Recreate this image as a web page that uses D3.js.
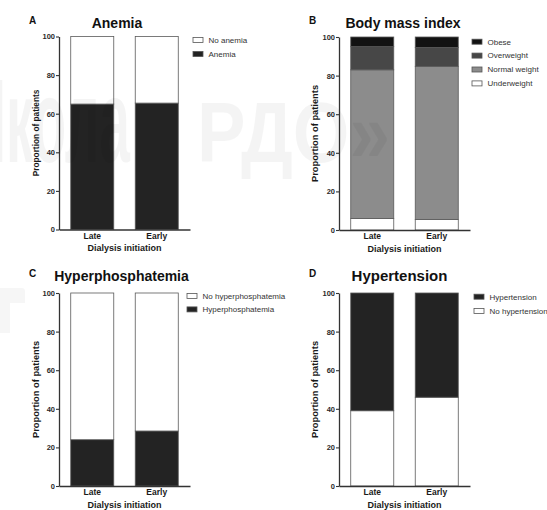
<!DOCTYPE html>
<html lang="en">

<head>
  <meta charset="utf-8">
  <title>Dialysis initiation</title>
  <script type="text/javascript" src="https://cdn.jsdelivr.net/npm/d3@7"></script>
  <style type="text/css">
    body { margin: 0; background: #fff; }
    svg { display: block; font-family: "Liberation Sans", Arial, sans-serif; }
  </style>
</head>

<body>
  <script type="text/javascript">

    // Size of the page
    const w = 547;
    const h = 510;

    // Data: two groups, percent of patients
    const categories = ["Late", "Early"];
    const yTicks = [0, 20, 40, 60, 80, 100];

    const anemia = [65, 65.5];
    const noAnemia = [35, 34.5];

    const underweight = [6, 5.5];
    const normalWeight = [77, 79.3];
    const overweight = [12, 9.8];
    const obese = [5, 5.4];

    const hyperphosphatemia = [24, 28.5];
    const noHyperphosphatemia = [76, 71.5];

    const noHypertension = [39, 46];
    const hypertension = [61, 54];

    // Panels: series listed bottom to top, legend top to bottom
    const panels = [
      {
        letter: "A", title: "Anemia", titleX: 117, titleY: 28, titleSize: 14,
        ax: 59, top: 36.5, bottom: 229.5, labelX: 39, labelSize: 8.3,
        legX: 193, legY: 40, legDy: 14,
        series: [
          { name: "Anemia", values: anemia, fill: "#232323" },
          { name: "No anemia", values: noAnemia, fill: "#ffffff" }
        ],
        legend: ["No anemia", "Anemia"]
      },
      {
        letter: "B", title: "Body mass index", titleX: 403, titleY: 28, titleSize: 14,
        ax: 339, top: 37, bottom: 230, labelX: 318, labelSize: 9.3,
        legX: 472, legY: 41.7, legDy: 13.9,
        series: [
          { name: "Underweight", values: underweight, fill: "#ffffff" },
          { name: "Normal weight", values: normalWeight, fill: "#8c8c8c" },
          { name: "Overweight", values: overweight, fill: "#474747" },
          { name: "Obese", values: obese, fill: "#121212" }
        ],
        legend: ["Obese", "Overweight", "Normal weight", "Underweight"]
      },
      {
        letter: "C", title: "Hyperphosphatemia", titleX: 121.5, titleY: 281, titleSize: 14,
        ax: 59, top: 293, bottom: 486, labelX: 38.7, labelSize: 9.3,
        legX: 187, legY: 296, legDy: 13.4,
        series: [
          { name: "Hyperphosphatemia", values: hyperphosphatemia, fill: "#232323" },
          { name: "No hyperphosphatemia", values: noHyperphosphatemia, fill: "#ffffff" }
        ],
        legend: ["No hyperphosphatemia", "Hyperphosphatemia"]
      },
      {
        letter: "D", title: "Hypertension", titleX: 399.5, titleY: 281, titleSize: 15,
        ax: 339, top: 293, bottom: 486, labelX: 318, labelSize: 9.3,
        legX: 474, legY: 296.7, legDy: 14.3,
        series: [
          { name: "No hypertension", values: noHypertension, fill: "#ffffff" },
          { name: "Hypertension", values: hypertension, fill: "#232323" }
        ],
        legend: ["Hypertension", "No hypertension"]
      }
    ];

    const svg = d3.select("body")
      .append("svg")
      .attr("width", w)
      .attr("height", h);

    svg.append("rect")
      .attr("width", w)
      .attr("height", h)
      .attr("fill", "#fff");

    panels.forEach(function (p) {
      const g = svg.append("g");

      const x = d3.scaleBand()
        .domain(categories)
        .range([p.ax, p.ax + 131])
        .paddingInner(0.333)
        .paddingOuter(0.182);

      const y = d3.scaleLinear()
        .domain([0, 100])
        .range([p.bottom, p.top]);

      // rows for d3.stack
      const rows = categories.map(function (c, i) {
        const r = { cat: c };
        p.series.forEach(function (s) { r[s.name] = s.values[i]; });
        return r;
      });
      const stacked = d3.stack().keys(p.series.map(s => s.name))(rows);
      const fillOf = {};
      p.series.forEach(function (s) { fillOf[s.name] = s.fill; });

      g.selectAll("g.layer")
        .data(stacked)
        .enter()
        .append("g")
        .attr("fill", d => fillOf[d.key])
        .selectAll("rect")
        .data(d => d)
        .enter()
        .append("rect")
        .attr("x", d => x(d.data.cat))
        .attr("width", x.bandwidth())
        .attr("y", d => y(d[1]))
        .attr("height", d => y(d[0]) - y(d[1]))
        .attr("stroke", "#5a5a5a")
        .attr("stroke-width", 0.8);

      // y axis
      const yAxis = g.append("g")
        .attr("transform", "translate(" + p.ax + ",0)")
        .call(d3.axisLeft(y).tickValues(yTicks).tickSize(3).tickSizeOuter(0).tickPadding(1));
      yAxis.select(".domain").attr("stroke", "#333").attr("stroke-width", 1.3);
      yAxis.selectAll(".tick line").attr("stroke", "#333").attr("stroke-width", 1.1);
      yAxis.selectAll(".tick text")
        .attr("fill", "#2a2a2a")
        .style("font-size", "7.5px")
        .style("font-weight", "bold");

      // x axis
      const xAxis = g.append("g")
        .attr("transform", "translate(0," + p.bottom + ")")
        .call(d3.axisBottom(x).tickSize(0).tickSizeOuter(0).tickPadding(3));
      xAxis.select(".domain").attr("stroke", "#333").attr("stroke-width", 1.3);
      xAxis.selectAll(".tick text")
        .attr("fill", "#1a1a1a")
        .style("font-size", "8.5px")
        .style("font-weight", "bold");

      // axis titles
      g.append("text")
        .attr("x", p.ax + 65.5)
        .attr("y", p.bottom + 21.5)
        .attr("text-anchor", "middle")
        .attr("fill", "#1a1a1a")
        .style("font-size", "9px")
        .style("font-weight", "bold")
        .text("Dialysis initiation");

      g.append("text")
        .attr("transform", "translate(" + p.labelX + "," + ((p.top + p.bottom) / 2) + ") rotate(-90)")
        .attr("text-anchor", "middle")
        .attr("fill", "#1a1a1a")
        .style("font-size", p.labelSize + "px")
        .style("font-weight", "bold")
        .text("Proportion of patients");

      // title and panel letter
      g.append("text")
        .attr("x", p.titleX)
        .attr("y", p.titleY)
        .attr("text-anchor", "middle")
        .attr("fill", "#111")
        .style("font-size", p.titleSize + "px")
        .style("font-weight", "bold")
        .text(p.title);

      g.append("text")
        .attr("x", p.ax - 30)
        .attr("y", p.titleY - 4)
        .attr("fill", "#111")
        .style("font-size", "10px")
        .style("font-weight", "bold")
        .text(p.letter);

      // legend
      const leg = g.selectAll("g.leg")
        .data(p.legend)
        .enter()
        .append("g")
        .attr("transform", (d, i) => "translate(" + p.legX + "," + (p.legY + i * p.legDy) + ")");
      leg.append("rect")
        .attr("x", 0)
        .attr("y", -2.5)
        .attr("width", 10)
        .attr("height", 5)
        .attr("fill", d => fillOf[d])
        .attr("stroke", "#555")
        .attr("stroke-width", 0.8);
      leg.append("text")
        .attr("x", 15.5)
        .attr("y", 2.8)
        .attr("fill", "#333")
        .style("font-size", "8px")
        .text(d => d);
    });

    // faint watermark over the figure
    const wm = svg.append("g")
      .attr("fill", "#000")
      .attr("fill-opacity", 0.045)
      .style("font-weight", "bold");
    wm.append("text")
      .attr("x", 130)
      .attr("y", 162)
      .attr("text-anchor", "end")
      .attr("textLength", 179)
      .attr("lengthAdjust", "spacingAndGlyphs")
      .style("font-size", "119px")
      .text("Школа");
    wm.append("text")
      .attr("x", 197)
      .attr("y", 162)
      .attr("textLength", 193)
      .attr("lengthAdjust", "spacingAndGlyphs")
      .style("font-size", "86px")
      .text("РДО»");
    wm.append("path")
      .attr("fill-opacity", 0.035)
      .attr("d", "M0,288H22Q25,288 25,291V303H10V333H0Z");

  </script>
</body>

</html>
